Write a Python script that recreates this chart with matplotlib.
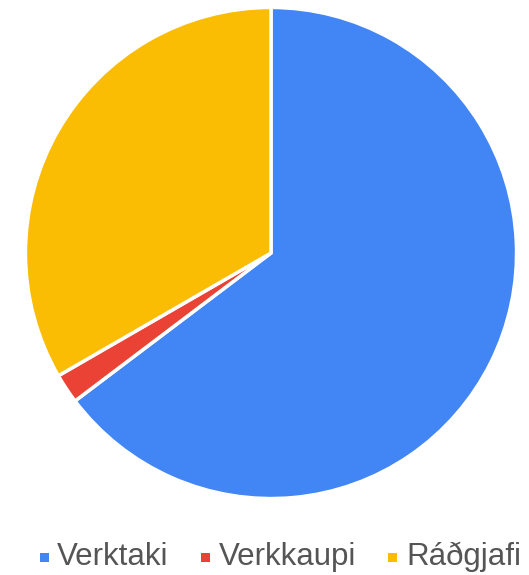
import matplotlib.pyplot as plt
from matplotlib.patches import Rectangle

labels = ["Verktaki", "Verkkaupi", "Ráðgjafi"]
values = [33, 1, 17]
colors = ["#4285F4", "#EA4335", "#FBBC04"]

W, H = 529, 575
fig = plt.figure(figsize=(W / 100, H / 100), dpi=100)

# pie axes: centre (271, 253) px, radius ~245 px
cx, cy, r = 271, 253, 248
ax = fig.add_axes([(cx - r) / W, (H - cy - r) / H, 2 * r / W, 2 * r / H])
ax.pie(values, colors=colors, startangle=90, counterclock=False, radius=1,
       wedgeprops=dict(edgecolor="white", linewidth=2.5))
ax.set_xlim(-1.01, 1.01)
ax.set_ylim(-1.01, 1.01)
ax.set_aspect("equal")
ax.axis("off")

# legend, drawn by hand
sq_x = [40, 201, 388]
tx_x = [57, 219, 406]
leg_y = 557
sq = 9
for lab, col, sx, tx in zip(labels, colors, sq_x, tx_x):
    fig.patches.append(Rectangle((sx / W, (H - leg_y - sq / 2) / H), sq / W, sq / H,
                                 transform=fig.transFigure, facecolor=col,
                                 edgecolor="none"))
    fig.text(tx / W, (H - leg_y) / H, lab, fontsize=22.5, color="#555555",
             family="Liberation Sans", va="center", ha="left")

fig.savefig("out.png", dpi=100)
